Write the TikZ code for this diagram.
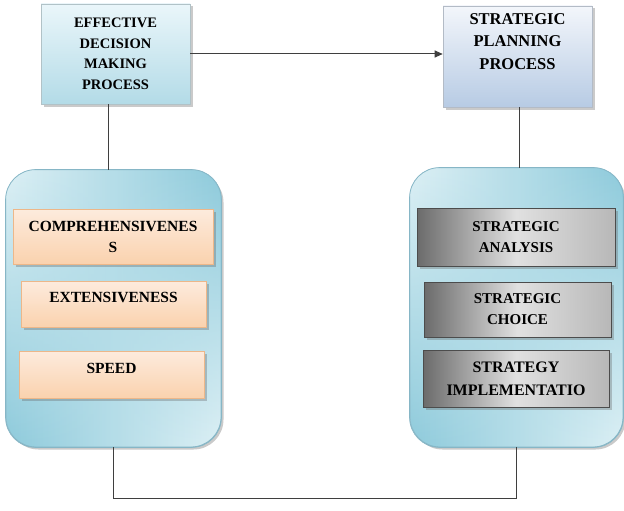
\documentclass[tikz,border=0pt]{standalone}
\usepackage{fontspec}
\setmainfont{Liberation Serif}
\usetikzlibrary{arrows.meta,shadows,fadings}

\definecolor{edmtop}{HTML}{EAF6FA}
\definecolor{edmbot}{HTML}{B3DBE7}
\definecolor{spptop}{HTML}{F3F6FB}
\definecolor{sppbot}{HTML}{B7CBE4}
\definecolor{contdark}{HTML}{8DCADB}
\definecolor{contlight}{HTML}{DDF0F5}
\definecolor{contline}{HTML}{86B6C6}
\definecolor{peachtop}{HTML}{FDEBDD}
\definecolor{peachbot}{HTML}{FAD2AE}
\definecolor{peachline}{HTML}{EDB789}
\definecolor{linkgray}{HTML}{3F3F3F}

\tikzset{
  shadowed/.style={drop shadow={shadow xshift=2.5pt,shadow yshift=-2.5pt,opacity=0.35,fill=black!60}},
  headbox/.style={draw=#1, line width=0.6pt, shadowed, align=center, inner sep=2pt},
  container/.style={draw=contline, line width=0.8pt, rounded corners=30pt,
    left color=contdark, right color=contlight, shadowed},
  contglow/.style={rounded corners=30pt, left color=contlight, right color=contdark,
    path fading=south},
  contedge/.style={draw=contline, line width=0.8pt, rounded corners=30pt},
  peachbox/.style={draw=peachline, line width=0.8pt, top color=peachtop, bottom color=peachbot,
    shadowed, align=center, inner sep=1pt, font=\fontsize{15.5}{21}\selectfont\bfseries},
  graybox/.style={draw=black!70, line width=0.8pt, left color=black!58,
    right color=black!28, middle color=black!12, shadowed, align=center, inner sep=1pt,
    font=\fontsize{15.5}{21.5}\selectfont\bfseries},
  link/.style={draw=linkgray, line width=1pt}
}

\begin{document}
\begin{tikzpicture}[x=1pt, y=-1pt]
    \useasboundingbox (0,0) rectangle (624,511);

    % Top boxes
    \node[headbox=edmbot!70!black!60, top color=edmtop, bottom color=edmbot,
          minimum width=149pt, minimum height=100pt,
          font=\fontsize{14.5}{20.5}\selectfont\bfseries] (edm) at (115.5,54)
          {EFFECTIVE\\DECISION\\MAKING\\PROCESS};
    \node[headbox=sppbot!70!black!60, top color=spptop, bottom color=sppbot,
          minimum width=149pt, minimum height=101pt, text depth=30pt,
          font=\fontsize{16.5}{22.5}\selectfont\bfseries] (spp) at (517.5,56.5)
          {STRATEGIC\\PLANNING\\PROCESS};

    % Containers (shaded, then a faded overlay for the upper half)
    \node[container, minimum width=215pt, minimum height=277pt] (lcont) at (113.5,308.5) {};
    \node[container, minimum width=213pt, minimum height=279pt] (rcont) at (516.5,307.5) {};
    \shade[contglow] (lcont.south west) rectangle (lcont.north east);
    \shade[contglow] (rcont.south west) rectangle (rcont.north east);
    \draw[contedge] (lcont.south west) rectangle (lcont.north east);
    \draw[contedge] (rcont.south west) rectangle (rcont.north east);

    % Left: decision making dimensions
    \node[peachbox, minimum width=200pt, minimum height=55pt] (comp) at (113,236.5)
          {COMPREHENSIVENES\\S};
    \node[peachbox, minimum width=185pt, minimum height=46pt, text depth=13pt] (ext) at (113.5,304)
          {EXTENSIVENESS};
    \node[peachbox, minimum width=185pt, minimum height=47pt, text depth=13pt] (speed) at (111.5,374.5)
          {SPEED};

    % Right: strategic planning stages
    \node[graybox, minimum width=198pt, minimum height=58pt,
          font=\fontsize{15}{21}\selectfont\bfseries] (anal) at (516,237)
          {STRATEGIC\\ANALYSIS};
    \node[graybox, minimum width=187pt, minimum height=55pt,
          font=\fontsize{15}{21}\selectfont\bfseries] (choice) at (517.5,309.5)
          {STRATEGIC\\CHOICE};
    \node[graybox, minimum width=186pt, minimum height=57pt,
          font=\fontsize{16}{23}\selectfont\bfseries] (impl) at (516,378.5)
          {STRATEGY\\IMPLEMENTATIO};

    % Connectors
    \draw[link, -{Triangle[length=8pt,width=7pt]}] (edm.east) -- (edm.east -| spp.west);
    \draw[link] ([xshift=-7.5pt]edm.south) -- ([xshift=-7.5pt]edm.south |- lcont.north);
    \draw[link] ([xshift=1.5pt]spp.south) -- ([xshift=1.5pt]spp.south |- rcont.north);

    % Bottom loop
    \coordinate (loop) at (0,498);
    \draw[link] (lcont.south) -- (lcont.south |- loop) -| (rcont.south);
\end{tikzpicture}
\end{document}
